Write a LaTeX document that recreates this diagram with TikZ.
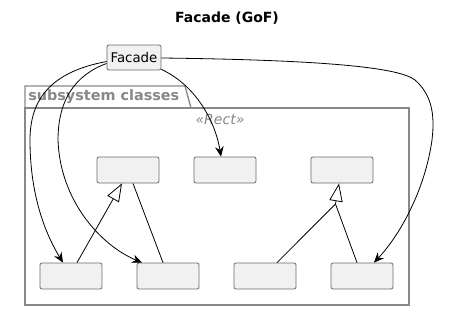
\documentclass[tikz,border=0pt]{standalone}
\usepackage{fontspec}
\setmainfont{DejaVu Sans}
\usetikzlibrary{arrows.meta,calc}
\definecolor{boxfill}{HTML}{F1F1F1}
\definecolor{boxline}{HTML}{6A6A6A}
\definecolor{pkgline}{HTML}{888888}
\definecolor{pkgtext}{HTML}{888888}
\tikzset{
  cls/.style={draw=boxline, fill=boxfill, rounded corners=1.5pt, line width=0.6pt,
    minimum width=46.5pt, minimum height=19.5pt, inner sep=0pt},
  assoc/.style={draw=black, line width=0.6pt, -{Stealth[length=7.5pt,width=6.5pt,inset=2.5pt]}},
  gen/.style={draw=black, line width=0.6pt, -{Triangle[open,length=13.5pt,width=10pt,fill=white]}},
  plain/.style={draw=black, line width=0.6pt},
}
\begin{document}
\begin{tikzpicture}[x=0.75pt,y=-0.75pt]
\useasboundingbox (0,0) rectangle (455,311);
% title
\node[font=\bfseries\fontsize{10.5}{12}\selectfont] (title) at (227,18) {Facade (GoF)};
% package
\draw[pkgline, line width=1pt] (25,108) -- (25,86) -- (185,86) -- (191,108);
\draw[pkgline, line width=1pt] (25,108) rectangle (409,305);
\node[anchor=west, text=pkgtext, font=\bfseries\fontsize{10.8}{12}\selectfont, inner sep=0pt] (pkg) at (28,97) {subsystem classes};
\node[text=pkgtext, font=\itshape\fontsize{10.5}{12}\selectfont, inner sep=0pt] (st) at (220,119) {«Rect»};
% facade
\node[cls, minimum width=40.5pt, minimum height=18.75pt, font=\fontsize{10}{12}\selectfont] (fac) at (134,57.5) {Facade};
% classes
\node[cls] (A) at (128,170) {};
\node[cls] (B) at (225,170) {};
\node[cls] (C) at (342,170) {};
\node[cls] (D) at (71,276) {};
\node[cls] (E) at (168,276) {};
\node[cls] (F) at (265,276) {};
\node[cls] (G) at (362,276) {};
% generalizations
\draw[gen] ($(D.north)+(6,0)$) -- ($(A.south)+(-6,0)$);
\draw[plain] ($(E.north)+(-5,0)$) -- ($(A.south)+(5,0)$);
\coordinate (cb) at (335.5,204);
\draw[plain] ($(F.north)+(12,0)$) -- (cb);
\draw[plain] ($(G.north)+(-5,0)$) -- (cb);
\draw[gen] (cb) -- ($(C.south)+(-3,0)$);
% facade associations
\draw[assoc] ($(fac.west)+(0,4)$) .. controls (50,72) and (30,100) .. (30,140)
   .. controls (30,200) and (48,238) .. ($(D.north)+(-8,0)$);
\draw[assoc] ($(fac.west)+(0,6)$) .. controls (75,75) and (58,100) .. (58,140)
   .. controls (60,200) and (100,245) .. ($(E.north)+(-26,0)$);
\draw[assoc] ($(fac.south east)+(0,-1)$) .. controls (195,85) and (215,120) .. ($(B.north)+(-4,0)$);
\draw[assoc] ($(fac.east)+(0,0.5)$) .. controls (330,60) and (400,68) .. (415,80)
   .. controls (432,95) and (435,115) .. (432,140)
   .. controls (425,190) and (400,235) .. ($(G.north)+(12,0)$);
\end{tikzpicture}
\end{document}
